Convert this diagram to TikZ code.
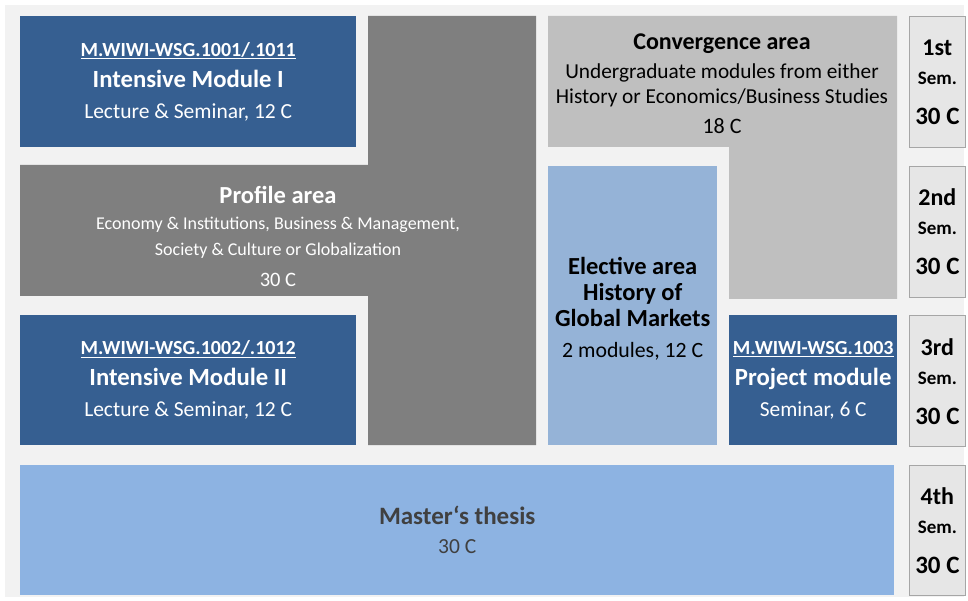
\documentclass[tikz,border=0pt]{standalone}
\usepackage{fontspec}
\setmainfont{Carlito}
\usetikzlibrary{positioning}

\definecolor{pagegray}{HTML}{F2F2F2}
\definecolor{modblue}{HTML}{365F91}
\definecolor{profgray}{HTML}{7F7F7F}
\definecolor{convgray}{HTML}{BFBFBF}
\definecolor{electblue}{HTML}{95B3D7}
\definecolor{thesisblue}{HTML}{8DB3E2}
\definecolor{semfill}{HTML}{E6E6E6}
\definecolor{semline}{HTML}{A6A6A6}
\definecolor{thesistext}{HTML}{404040}

\tikzset{
  area/.style={rectangle, inner sep=0pt, anchor=north west, align=center},
  modbox/.style={area, fill=modblue, text=white},
  sembox/.style={area, fill=semfill, draw=semline, line width=.7pt,
    minimum width=56pt, minimum height=131pt,
    font=\bfseries\fontsize{24}{29}\selectfont},
}
\newcommand{\semtext}[1]{{#1}\\{\fontsize{19}{29}\selectfont Sem.}\\[11pt]{\fontsize{25}{29}\selectfont 30 C}}

\begin{document}
\begin{tikzpicture}[x=1pt,y=-1pt]
    \useasboundingbox (0,0) rectangle (968,601);
    \fill[pagegray] (5,5) rectangle (964,597);

    % profile area and convergence area
    \fill[profgray] (368,16) -| (536,445) -| (368,296) -| (20,165) -| (368,16) -- cycle;
    \fill[convgray] (548,16) -| (897,299) -| (729,147) -| (548,16) -- cycle;
    \node[align=center, text=white, font=\fontsize{18}{26}\selectfont] (profile) at (278,236)
      {{\bfseries\fontsize{24.5}{26}\selectfont Profile area}\\
       Economy \& Institutions, Business \& Management,\\
       Society \& Culture or Globalization\\[5pt]
       {\fontsize{20.5}{26}\selectfont 30 C}};
    \node[align=center, font=\fontsize{21.3}{25}\selectfont] (converg) at (722,84)
      {{\bfseries\fontsize{24}{25}\selectfont Convergence area}\\[4pt]
       Undergraduate modules from either\\
       History or Economics/Business Studies\\[5pt]
       {\fontsize{22}{25}\selectfont 18 C}};

    % modules
    \node[modbox, minimum width=336pt, minimum height=131pt, font=\fontsize{21.5}{31}\selectfont] (im1) at (20,16)
      {{\bfseries\fontsize{20}{31}\selectfont\underline{M.WIWI-WSG.1001/.1011}}\\
       {\bfseries\fontsize{24.7}{31}\selectfont Intensive Module I}\\
       Lecture \& Seminar, 12 C};
    \node[modbox, minimum width=336pt, minimum height=130pt, font=\fontsize{21.5}{31}\selectfont] (im2) at (20,315)
      {{\bfseries\fontsize{20}{31}\selectfont\underline{M.WIWI-WSG.1002/.1012}}\\
       {\bfseries\fontsize{24.7}{31}\selectfont Intensive Module II}\\
       Lecture \& Seminar, 12 C};
    \node[area, fill=electblue, minimum width=169pt, minimum height=279pt, font=\fontsize{21.8}{26}\selectfont] (elect) at (548,166)
      {\mbox{}\\[-3pt]
       {\bfseries\fontsize{24.5}{26}\selectfont Elective area}\\
       {\bfseries\fontsize{24.5}{26}\selectfont History of}\\
       {\bfseries\fontsize{24.5}{26}\selectfont Global Markets}\\[5pt]
       2 modules, 12 C};
    \node[modbox, minimum width=168pt, minimum height=130pt, font=\fontsize{21.4}{31}\selectfont] (proj) at (729,315)
      {{\bfseries\fontsize{20}{31}\selectfont\underline{M.WIWI-WSG.1003}}\\
       {\bfseries\fontsize{24.7}{31}\selectfont Project module}\\
       Seminar, 6 C};
    \node[area, fill=thesisblue, text=thesistext, minimum width=874pt, minimum height=130pt, font=\fontsize{21.5}{29}\selectfont] (thesis) at (20,465)
      {{\bfseries\fontsize{25}{29}\selectfont Master‘s thesis}\\
       30 C};

    % semesters
    \node[sembox] (sem1) at (909,16) {\semtext{1st}};
    \node[sembox, below=18pt of sem1] (sem2) {\semtext{2nd}};
    \node[sembox, below=18pt of sem2] (sem3) {\semtext{3rd}};
    \node[sembox, below=18pt of sem3, minimum height=130pt] (sem4) {\semtext{4th}};
\end{tikzpicture}
\end{document}
